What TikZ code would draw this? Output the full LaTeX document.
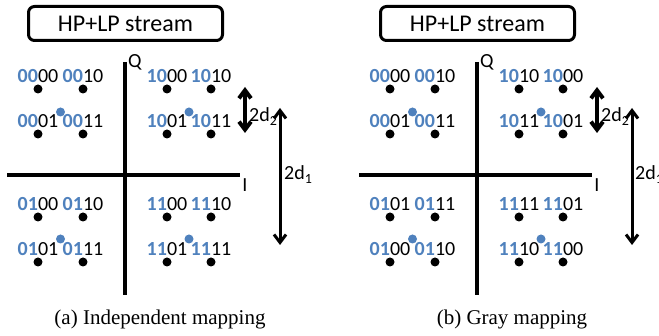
\documentclass[tikz,border=0pt]{standalone}
\usepackage{fontspec}
\setmainfont{Carlito}
\newfontfamily\capfont{Liberation Serif}
\usetikzlibrary{arrows.meta}
\definecolor{hpblue}{RGB}{79,129,189}
\newcommand\bits[2]{{\color{hpblue}\bfseries #1}#2}
\begin{document}
\begin{tikzpicture}[x=1pt,y=-1pt,
  dot/.style={circle,fill=black,inner sep=0pt,minimum size=9pt},
  bdot/.style={circle,fill=hpblue,inner sep=0pt,minimum size=9pt},
  lab/.style={font=\fontsize{20}{20}\selectfont,inner sep=0pt,label distance=1.5pt},
  axisline/.style={line width=4pt},
  dimarrow/.style={line width=#1,{Straight Barb[length=8pt,width=12pt]}-{Straight Barb[length=8pt,width=12pt]}},
  titlebox/.style={draw,line width=3pt,rounded corners=6pt,minimum width=194pt,minimum height=34pt,inner sep=0pt,font=\fontsize{24}{24}\selectfont},
  txt/.style={font=\fontsize{20}{20}\selectfont,inner sep=0pt},
  captxt/.style={font=\capfont\fontsize{21}{21}\selectfont,inner sep=0pt,anchor=base}]
\useasboundingbox (0,0) rectangle (659,336);

% ---------- panel (a) ----------
\node[titlebox] (atitle) at (125.5,23.5) {HP+LP stream};
\coordinate (aQt) at (125,62); \coordinate (aQb) at (125,295);
\coordinate (aIl) at (7,175);  \coordinate (aIr) at (240,175);
\draw[axisline] (aQt) -- (aQb);
\draw[axisline] (aIl) -- (aIr);
\node[txt,anchor=base west] (aQ) at (128,68) {Q};
\node[txt,anchor=base] (aI) at (245,192) {I};

\node[dot,label={[lab]above:\bits{00}{00}}] (a11) at (38,89) {};
\node[dot,label={[lab]above:\bits{00}{10}}] (a12) at (83,89) {};
\node[dot,label={[lab]above:\bits{10}{00}}] (a13) at (167,89) {};
\node[dot,label={[lab]above:\bits{10}{10}}] (a14) at (211,89) {};
\node[dot,label={[lab]above:\bits{00}{01}}] (a21) at (38,134) {};
\node[dot,label={[lab]above:\bits{00}{11}}] (a22) at (83,134) {};
\node[dot,label={[lab]above:\bits{10}{01}}] (a23) at (167,134) {};
\node[dot,label={[lab]above:\bits{10}{11}}] (a24) at (211,134) {};
\node[dot,label={[lab]above:\bits{01}{00}}] (a31) at (38,217) {};
\node[dot,label={[lab]above:\bits{01}{10}}] (a32) at (83,217) {};
\node[dot,label={[lab]above:\bits{11}{00}}] (a33) at (167,217) {};
\node[dot,label={[lab]above:\bits{11}{10}}] (a34) at (211,217) {};
\node[dot,label={[lab]above:\bits{01}{01}}] (a41) at (38,262) {};
\node[dot,label={[lab]above:\bits{01}{11}}] (a42) at (83,262) {};
\node[dot,label={[lab]above:\bits{11}{01}}] (a43) at (167,262) {};
\node[dot,label={[lab]above:\bits{11}{11}}] (a44) at (211,262) {};
\node[bdot] (ab1) at (60.5,112) {};
\node[bdot] (ab2) at (189,112) {};
\node[bdot] (ab3) at (60.5,239) {};
\node[bdot] (ab4) at (189,239) {};

\coordinate (ad2t) at (245,87);  \coordinate (ad2b) at (245,133);
\coordinate (ad1t) at (280,108); \coordinate (ad1b) at (280,245);
\draw[dimarrow=4pt] (ad2t) -- (ad2b);
\draw[dimarrow=3pt] (ad1t) -- (ad1b);
\node[txt,anchor=base west] (ad2) at (249,122) {2d\textsubscript{2}};
\node[txt,anchor=base west] (ad1) at (284,180) {2d\textsubscript{1}};
\node[captxt] (acap) at (160,325) {(a) Independent mapping};

% ---------- panel (b) ----------
\begin{scope}[xshift=352pt]
\node[titlebox] (btitle) at (125.5,23.5) {HP+LP stream};
\coordinate (bQt) at (125,62); \coordinate (bQb) at (125,295);
\coordinate (bIl) at (7,175);  \coordinate (bIr) at (240,175);
\draw[axisline] (bQt) -- (bQb);
\draw[axisline] (bIl) -- (bIr);
\node[txt,anchor=base west] (bQ) at (128,68) {Q};
\node[txt,anchor=base] (bI) at (245,192) {I};

\node[dot,label={[lab]above:\bits{00}{00}}] (b11) at (38,89) {};
\node[dot,label={[lab]above:\bits{00}{10}}] (b12) at (83,89) {};
\node[dot,label={[lab]above:\bits{10}{10}}] (b13) at (167,89) {};
\node[dot,label={[lab]above:\bits{10}{00}}] (b14) at (211,89) {};
\node[dot,label={[lab]above:\bits{00}{01}}] (b21) at (38,134) {};
\node[dot,label={[lab]above:\bits{00}{11}}] (b22) at (83,134) {};
\node[dot,label={[lab]above:\bits{10}{11}}] (b23) at (167,134) {};
\node[dot,label={[lab]above:\bits{10}{01}}] (b24) at (211,134) {};
\node[dot,label={[lab]above:\bits{01}{01}}] (b31) at (38,217) {};
\node[dot,label={[lab]above:\bits{01}{11}}] (b32) at (83,217) {};
\node[dot,label={[lab]above:\bits{11}{11}}] (b33) at (167,217) {};
\node[dot,label={[lab]above:\bits{11}{01}}] (b34) at (211,217) {};
\node[dot,label={[lab]above:\bits{01}{00}}] (b41) at (38,262) {};
\node[dot,label={[lab]above:\bits{01}{10}}] (b42) at (83,262) {};
\node[dot,label={[lab]above:\bits{11}{10}}] (b43) at (167,262) {};
\node[dot,label={[lab]above:\bits{11}{00}}] (b44) at (211,262) {};
\node[bdot] (bb1) at (60.5,112) {};
\node[bdot] (bb2) at (189,112) {};
\node[bdot] (bb3) at (60.5,239) {};
\node[bdot] (bb4) at (189,239) {};

\coordinate (bd2t) at (245,87);  \coordinate (bd2b) at (245,133);
\coordinate (bd1t) at (280,108); \coordinate (bd1b) at (280,245);
\draw[dimarrow=4pt] (bd2t) -- (bd2b);
\draw[dimarrow=3pt] (bd1t) -- (bd1b);
\node[txt,anchor=base west] (bd2) at (249,122) {2d\textsubscript{2}};
\node[txt,anchor=base west] (bd1) at (283,180) {2d\textsubscript{1}};
\node[captxt] (bcap) at (160,325) {(b) Gray mapping};
\end{scope}
\end{tikzpicture}
\end{document}
